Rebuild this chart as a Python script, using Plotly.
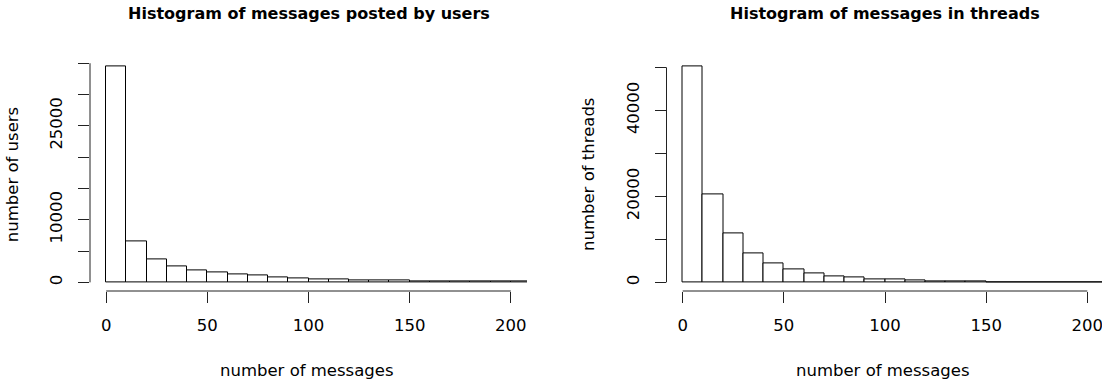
import plotly.graph_objects as go

FIG_W, FIG_H = 1102, 379

# Histogram bins (width 10 messages) and counts per bin
bin_edges = list(range(0, 220, 10))
users_counts = [34550, 6500, 3700, 2500, 1900, 1550, 1300, 1050, 750, 670,
                500, 450, 350, 340, 310, 230, 210, 200, 170, 150, 80]
threads_counts = [50300, 20500, 11500, 6750, 4500, 3000, 2100, 1400, 1050, 780,
                  620, 400, 300, 230, 150, 100, 80, 60, 50, 40, 30]

x_tickvals = [0, 50, 100, 150, 200]
users_tickvals = [0, 5000, 10000, 15000, 20000, 25000, 30000, 35000]
users_ticktext = ["0", "", "10000", "", "", "25000", "", ""]
threads_tickvals = [0, 10000, 20000, 30000, 40000, 50000]
threads_ticktext = ["0", "", "20000", "", "40000", ""]

titles = ["Histogram of messages posted by users", "Histogram of messages in threads"]
y_titles = ["number of users", "number of threads"]
x_title = "number of messages"

FONT = "DejaVu Sans"
LINE = "#222"


def px_x(p):
    return p / FIG_W


def px_y(p):
    return 1 - p / FIG_H


centers = [(a + b) / 2 for a, b in zip(bin_edges[:-1], bin_edges[1:])]
widths = [b - a for a, b in zip(bin_edges[:-1], bin_edges[1:])]

fig = go.Figure()
bar_style = dict(color="white", line=dict(color="black", width=1))
fig.add_trace(go.Bar(x=centers, y=users_counts, width=widths, marker=bar_style,
                     xaxis="x", yaxis="y", showlegend=False, hoverinfo="x+y"))
fig.add_trace(go.Bar(x=centers, y=threads_counts, width=widths, marker=bar_style,
                     xaxis="x2", yaxis="y2", showlegend=False, hoverinfo="x+y"))

# panel geometry (pixels)
left_panel = (90, 527)
right_panel = (666.5, FIG_W)
top_px, bottom_px = 57.4, 291
x_lo, x_hi = -8, 208
unit_px = (left_panel[1] - left_panel[0]) / (x_hi - x_lo)
x2_hi = x_lo + (right_panel[1] - right_panel[0]) / unit_px

y_domain = [px_y(bottom_px), px_y(top_px)]
tick_font = dict(family=FONT, size=16.5, color="black")


def xaxis_cfg(domain, rng, anchor):
    return dict(domain=domain, range=rng, anchor=anchor, showgrid=False,
                zeroline=False, showline=False, ticks="outside", ticklen=11,
                tickwidth=1, tickcolor=LINE, tickvals=x_tickvals,
                tickfont=tick_font, ticklabelstandoff=8,
                ticklabeloverflow="allow", fixedrange=True)


def yaxis_cfg(counts, tickvals, ticktext, anchor):
    top = max(counts)
    pad = 0.04 * top
    return dict(domain=y_domain, range=[-pad, top + pad], anchor=anchor,
                showgrid=False, zeroline=False, showline=False,
                ticks="outside", ticklen=11, tickwidth=1, tickcolor=LINE,
                tickvals=tickvals, ticktext=ticktext, tickangle=-90,
                tickfont=tick_font, ticklabelstandoff=9,
                ticklabeloverflow="allow", fixedrange=True)


fig.update_layout(
    width=FIG_W, height=FIG_H,
    margin=dict(l=0, r=0, t=0, b=0),
    paper_bgcolor="white", plot_bgcolor="white",
    xaxis=xaxis_cfg([px_x(left_panel[0]), px_x(left_panel[1])], [x_lo, x_hi], "y"),
    yaxis=yaxis_cfg(users_counts, users_tickvals, users_ticktext, "x"),
    xaxis2=xaxis_cfg([px_x(right_panel[0]), 1.0], [x_lo, x2_hi], "y2"),
    yaxis2=yaxis_cfg(threads_counts, threads_tickvals, threads_ticktext, "x2"),
    bargap=0,
)

# axis lines spanning only the tick range
for xa, ya, ytv in [("x", "y", users_tickvals), ("x2", "y2", threads_tickvals)]:
    fig.add_shape(type="line", xref=xa, yref=f"{ya} domain",
                  x0=x_tickvals[0], x1=x_tickvals[-1], y0=0, y1=0,
                  line=dict(color=LINE, width=1))
    fig.add_shape(type="line", xref=f"{xa} domain", yref=ya,
                  x0=0, x1=0, y0=ytv[0], y1=ytv[-1],
                  line=dict(color=LINE, width=1))

# panel titles and axis titles
panel_centers = [308.5, 884.8]
for cx, t in zip(panel_centers, titles):
    fig.add_annotation(text=t, x=px_x(cx), y=px_y(13.5), xref="paper", yref="paper",
                       xanchor="center", yanchor="middle", showarrow=False,
                       font=dict(family=FONT, size=16, color="black", weight="bold"))
    fig.add_annotation(text=x_title, x=px_x(cx - 1.5), y=px_y(370), xref="paper",
                       yref="paper", xanchor="center", yanchor="middle",
                       showarrow=False, font=dict(family=FONT, size=16.5, color="black"))

for cx, t in zip([13.2, 589], y_titles):
    fig.add_annotation(text=t, x=px_x(cx), y=px_y(175), xref="paper", yref="paper",
                       xanchor="center", yanchor="middle", textangle=-90,
                       showarrow=False, font=dict(family=FONT, size=16.5, color="black"))

fig.write_html("out.html")
